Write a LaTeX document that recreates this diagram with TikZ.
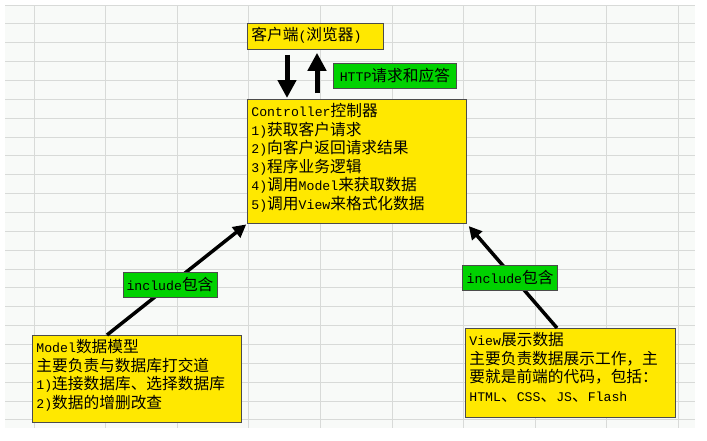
\documentclass[tikz,border=0pt]{standalone}
\usepackage{fontspec}
\setmainfont{Liberation Mono}
\newfontfamily\zh[Scale=1.19]{Noto Sans CJK SC}
\usetikzlibrary{arrows.meta,positioning}

\definecolor{boxYellow}{RGB}{255,232,0}
\definecolor{tagGreen}{RGB}{0,210,0}
\definecolor{gridGray}{RGB}{216,218,216}
\definecolor{sheetBg}{RGB}{248,250,248}

% fixed-height block, text kept at the top
\newcommand{\boxLines}[3]{\parbox[c][#2][t]{#1}{\raggedright #3}}

\begin{document}
\begin{tikzpicture}[
    x=1pt, y=-1pt,
    font=\fontsize{13.2pt}{18.5pt}\selectfont,
    >=Triangle,
    textBox/.style={
        rectangle,
        draw=black!70,
        fill=boxYellow,
        line width=0.8pt,
        anchor=north west,
        inner xsep=4pt,
        inner ysep=4pt
    },
    tagBox/.style={
        rectangle,
        draw=black!70,
        fill=tagGreen,
        line width=0.8pt,
        inner xsep=3pt,
        inner ysep=0pt,
        minimum height=25pt
    },
    bigArrow/.style={
        line width=5pt,
        -{Triangle[length=18pt,width=18pt]}
    },
    incArrow/.style={
        line width=3.5pt,
        -{Triangle[length=13pt,width=13pt]}
    },
    gridLine/.style={
        draw=gridGray,
        line width=1pt
    }
]

% ==================== SHEET BACKGROUND ====================
\useasboundingbox (0,0) rectangle (707,440);
\fill[white] (0,0) rectangle (707,440);
\fill[sheetBg] (5,5) rectangle (695,428);
\foreach \gy in {0,...,22}
    \draw[gridLine] (5,{5+18.86*\gy}) -- (695,{5+18.86*\gy});
\foreach \gx in {0,...,9}
    \draw[gridLine] ({34+71.6*\gx},5) -- ({34+71.6*\gx},428);

% ==================== BOXES ====================
\node[textBox] (client) at (247,23) {\boxLines{128pt}{18pt}{{\zh 客户端}({\zh 浏览器})}};
\node[textBox] (ctrl) at (247,99) {\boxLines{211pt}{116pt}{Controller{\zh 控制器}\\1){\zh 获取客户请求}\\2){\zh 向客户返回请求结果}\\3){\zh 程序业务逻辑}\\4){\zh 调用}Model{\zh 来获取数据}\\5){\zh 调用}View{\zh 来格式化数据}}};
\node[textBox] (model) at (32,335) {\boxLines{201pt}{79pt}{Model{\zh 数据模型}\\{\zh 主要负责与数据库打交道}\\1){\zh 连接数据库、选择数据库}\\2){\zh 数据的增删改查}}};
\node[textBox] (view) at (465,328) {\boxLines{202pt}{81pt}{View{\zh 展示数据}\\{\zh 主要负责数据展示工作，主}\\{\zh 要就是前端的代码，包括：}\\HTML{\zh 、}CSS{\zh 、}JS{\zh 、}Flash}};

% HTTP label
\node[tagBox, anchor=west, minimum width=123pt] (httpTag) at (333,75.5) {HTTP{\zh 请求和应答}};

% ==================== ARROWS ====================
% request / response
\draw[bigArrow, shorten <=5pt, shorten >=1pt] ([xshift=40pt]client.south west) -- ([xshift=40pt]ctrl.north west);
\draw[bigArrow, shorten <=6pt, shorten >=3pt] ([xshift=70pt]ctrl.north west) -- ([xshift=70pt]client.south west);

% include links
\draw[incArrow, shorten >=1pt] ([xshift=75pt]model.north west) -- node[tagBox, pos=0.45, minimum width=94pt] (incLeft) {include{\zh 包含}} (ctrl.south west);
\draw[incArrow, shorten >=3pt] ([xshift=92pt]view.north west) -- node[tagBox, pos=0.52, yshift=-4pt, minimum width=95pt] (incRight) {include{\zh 包含}} (ctrl.south east);

\end{tikzpicture}
\end{document}
